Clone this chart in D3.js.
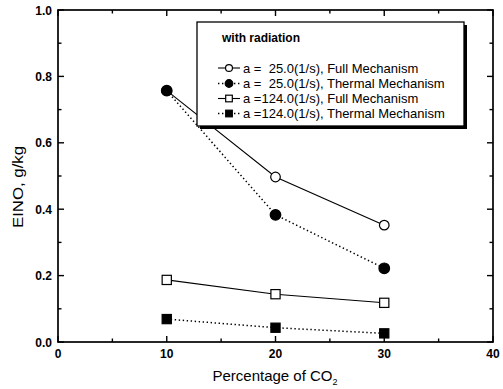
<!DOCTYPE html>
<html>
<head>
<meta charset="utf-8">
<script src="https://cdn.jsdelivr.net/npm/d3@7/dist/d3.min.js"></script>
<style>
  html, body { margin: 0; padding: 0; background: #fff; }
  svg { display: block; font-family: "Liberation Sans", Arial, sans-serif; }
</style>
</head>
<body>
<svg id="chart" width="503" height="389"></svg>
<script>
// CO2 percentage on the x axis
const co2 = [10, 20, 30];

// EINO (g/kg) for each strain rate and mechanism
const fullA25 = [0.757, 0.497, 0.352];
const thermalA25 = [0.757, 0.383, 0.222];
const fullA124 = [0.187, 0.144, 0.118];
const thermalA124 = [0.069, 0.043, 0.026];

const seriesNames = [
  "a =  25.0(1/s), Full Mechanism",
  "a =  25.0(1/s), Thermal Mechanism",
  "a =124.0(1/s), Full Mechanism",
  "a =124.0(1/s), Thermal Mechanism"
];

const xTicks = [0, 10, 20, 30, 40];
const yTicks = [0.0, 0.2, 0.4, 0.6, 0.8, 1.0];

const series = [
  { name: seriesNames[0], values: fullA25, shape: "circle", filled: false, dotted: false },
  { name: seriesNames[1], values: thermalA25, shape: "circle", filled: true, dotted: true },
  { name: seriesNames[2], values: fullA124, shape: "square", filled: false, dotted: false },
  { name: seriesNames[3], values: thermalA124, shape: "square", filled: true, dotted: true }
];

const svg = d3.select("#chart");
const m = { left: 58, right: 493, top: 10, bottom: 342 };

const x = d3.scaleLinear().domain([0, 40]).range([m.left, m.right]);
const y = d3.scaleLinear().domain([0, 1]).range([m.bottom, m.top]);

// frame
svg.append("rect")
  .attr("x", m.left).attr("y", m.top)
  .attr("width", m.right - m.left).attr("height", m.bottom - m.top)
  .attr("fill", "none").attr("stroke", "#000").attr("stroke-width", 1.7);

// inward ticks on all four sides (major every 10 / 0.2, minor in between)
const xMinor = d3.range(0, 41, 5);
const yMinor = d3.range(0, 1.001, 0.1);
const tickG = svg.append("g").attr("stroke", "#000").attr("stroke-width", 1.4);
xMinor.forEach(v => {
  const len = (v % 10 === 0) ? 6 : 3.5;
  tickG.append("line").attr("x1", x(v)).attr("x2", x(v)).attr("y1", m.bottom).attr("y2", m.bottom - len);
  tickG.append("line").attr("x1", x(v)).attr("x2", x(v)).attr("y1", m.top).attr("y2", m.top + len);
});
yMinor.forEach((v, i) => {
  const len = (i % 2 === 0) ? 6 : 3.5;
  tickG.append("line").attr("y1", y(v)).attr("y2", y(v)).attr("x1", m.left).attr("x2", m.left + len);
  tickG.append("line").attr("y1", y(v)).attr("y2", y(v)).attr("x1", m.right).attr("x2", m.right - len);
});

// tick labels
svg.append("g").selectAll("text").data(xTicks).join("text")
  .attr("x", d => x(d)).attr("y", m.bottom + 16)
  .attr("text-anchor", "middle")
  .attr("font-size", 12).attr("font-weight", "bold")
  .text(d => d);

svg.append("g").selectAll("text").data(yTicks).join("text")
  .attr("x", m.left - 6).attr("y", d => y(d) + 4.5)
  .attr("text-anchor", "end")
  .attr("font-size", 12).attr("font-weight", "bold")
  .text(d => d.toFixed(1));

// axis titles
const xt = svg.append("text")
  .attr("x", 275).attr("y", 381)
  .attr("text-anchor", "middle").attr("font-size", 15);
xt.append("tspan").text("Percentage of CO");
xt.append("tspan").attr("font-size", 9).attr("dy", 4).text("2");

svg.append("text")
  .attr("transform", `translate(23,187) rotate(-90)`)
  .attr("text-anchor", "middle").attr("font-size", 14)
  .attr("textLength", 82).attr("lengthAdjust", "spacingAndGlyphs")
  .text("EINO, g/kg");

// connecting lines
const line = d3.line().x((d, i) => x(co2[i])).y(d => y(d));
svg.append("g").selectAll("path").data(series).join("path")
  .attr("d", d => line(d.values))
  .attr("fill", "none").attr("stroke", "#000")
  .attr("stroke-width", d => d.dotted ? 1.5 : 1.1)
  .attr("stroke-dasharray", d => d.dotted ? "1.4,2.6" : null);

// point markers
function drawMarker(g, s, cx, cy, scale) {
  if (s.shape === "circle") {
    g.append("circle").attr("cx", cx).attr("cy", cy).attr("r", (s.filled ? 5.3 : 4.8) * scale)
      .attr("fill", s.filled ? "#000" : "#fff").attr("stroke", "#000").attr("stroke-width", 1.2);
  } else {
    const h = 4.6 * scale;
    g.append("rect").attr("x", cx - h).attr("y", cy - h).attr("width", 2 * h).attr("height", 2 * h)
      .attr("fill", s.filled ? "#000" : "#fff").attr("stroke", "#000").attr("stroke-width", 1.2);
  }
}
const markG = svg.append("g");
series.forEach(s => s.values.forEach((v, i) => drawMarker(markG, s, x(co2[i]), y(v), 1)));

// legend box with drop shadow
const lg = svg.append("g");
const lx = 197, ly = 22, lw = 267, lh = 104;
lg.append("rect").attr("x", lx + 3).attr("y", ly + 3).attr("width", lw).attr("height", lh).attr("fill", "#000");
lg.append("rect").attr("x", lx).attr("y", ly).attr("width", lw).attr("height", lh)
  .attr("fill", "#fff").attr("stroke", "#000").attr("stroke-width", 1.3);
lg.append("text").attr("x", 222).attr("y", 42).attr("font-size", 12).attr("font-weight", "bold")
  .text("with radiation");
const rowY = [68, 83.5, 98.5, 113.5];
series.forEach((s, i) => {
  const yy = rowY[i];
  lg.append("line").attr("x1", 218).attr("x2", 240).attr("y1", yy).attr("y2", yy)
    .attr("stroke", "#000").attr("stroke-width", s.dotted ? 1.5 : 1.1)
    .attr("stroke-dasharray", s.dotted ? "1.4,2.6" : null);
  drawMarker(lg, s, 229, yy, 0.72);
  lg.append("text").attr("x", 243).attr("y", yy + 4.5).attr("font-size", 13)
    .style("white-space", "pre").text(s.name);
});
</script>
</body>
</html>
